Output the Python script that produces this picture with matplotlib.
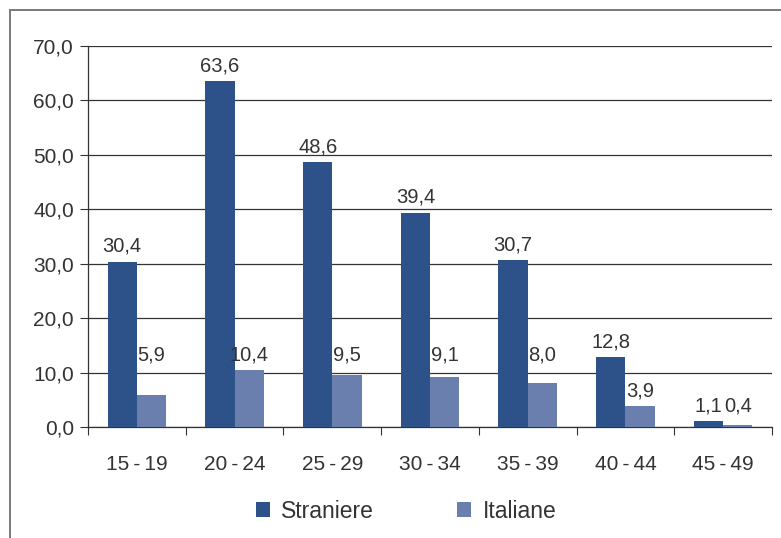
import matplotlib
matplotlib.use("Agg")
import matplotlib.pyplot as plt
import numpy as np
from matplotlib.patches import Rectangle

# fertility rates by age class of the mother, foreign vs Italian women
ages = ["15-19", "20-24", "25-29", "30-34", "35-39", "40-44", "45-49"]
straniere = [30.4, 63.6, 48.6, 39.4, 30.7, 12.8, 1.1]
italiane = [5.9, 10.4, 9.5, 9.1, 8.0, 3.9, 0.4]
yticks = [0, 10, 20, 30, 40, 50, 60, 70]

C_STR, C_ITA = "#2d5189", "#6b7fae"
INK = "#333333"

plt.rcParams.update({"font.family": ["Liberation Sans", "DejaVu Sans"], "font.size": 15})


def comma(v):
    return f"{v:.1f}".replace(".", ",")


fig = plt.figure(figsize=(7.81, 5.38), dpi=100)
# outer frame, open to the right and bottom
fig.patches.append(Rectangle((10 / 781, -0.1), 1.2, 1.1 - 10 / 538,
                             transform=fig.transFigure, fill=False, ec="#7a7a7a", lw=1.4))
ax = fig.add_axes([88 / 781, 1 - 427 / 538, (772 - 88) / 781, (427 - 46) / 538])

x = np.arange(len(ages))
w = 0.3
b1 = ax.bar(x - w / 2, straniere, w, color=C_STR, label="Straniere", zorder=3)
b2 = ax.bar(x + w / 2, italiane, w, color=C_ITA, label="Italiane", zorder=3)

# Italian labels: first five classes share one baseline level with the tallest,
# the last one sits beside the foreign label
ita_lab_y = [max(italiane[:5])] * 5 + [italiane[5], straniere[6]]
for bars, ys in ((b1, straniere), (b2, ita_lab_y)):
    for r, y in zip(bars, ys):
        ax.annotate(comma(r.get_height()), (r.get_x() + r.get_width() / 2, y), xytext=(0, 4),
                    textcoords="offset points", ha="center", va="bottom", color=INK,
                    fontsize=14.5)

ax.set_xlim(-0.5, len(ages) - 0.5)
ax.set_ylim(0, 70)
ax.set_yticks(yticks)
ax.set_yticklabels([comma(v) for v in yticks], color=INK)
ax.yaxis.grid(True, color="#333333", lw=0.9, zorder=0)
ax.set_axisbelow(True)

# category boundaries carry the x ticks, labels sit at the centres
ax.set_xticks(np.arange(len(ages) + 1) - 0.5)
ax.set_xticklabels([])
ax.set_xticks(x, minor=True)
ax.set_xticklabels([a.replace("-", "\u2009-\u2009") for a in ages], minor=True, color=INK)
ax.tick_params(axis="x", which="major", direction="out", length=6, color="#333333")
ax.tick_params(axis="x", which="minor", length=0, pad=20)
ax.tick_params(axis="y", direction="out", length=6, color="#333333", pad=4)

for s in ("top", "right"):
    ax.spines[s].set_visible(False)
for s in ("left", "bottom"):
    ax.spines[s].set_color("#333333")
    ax.spines[s].set_linewidth(0.9)

fig.legend(handles=[b1, b2], loc="center", bbox_to_anchor=(406 / 781, 1 - 511 / 538), ncol=2,
           frameon=False, handlelength=0.62, handleheight=0.62, columnspacing=3.6,
           handletextpad=0.5, labelcolor=INK, fontsize=16.5)

fig.savefig("out.png", dpi=100)
